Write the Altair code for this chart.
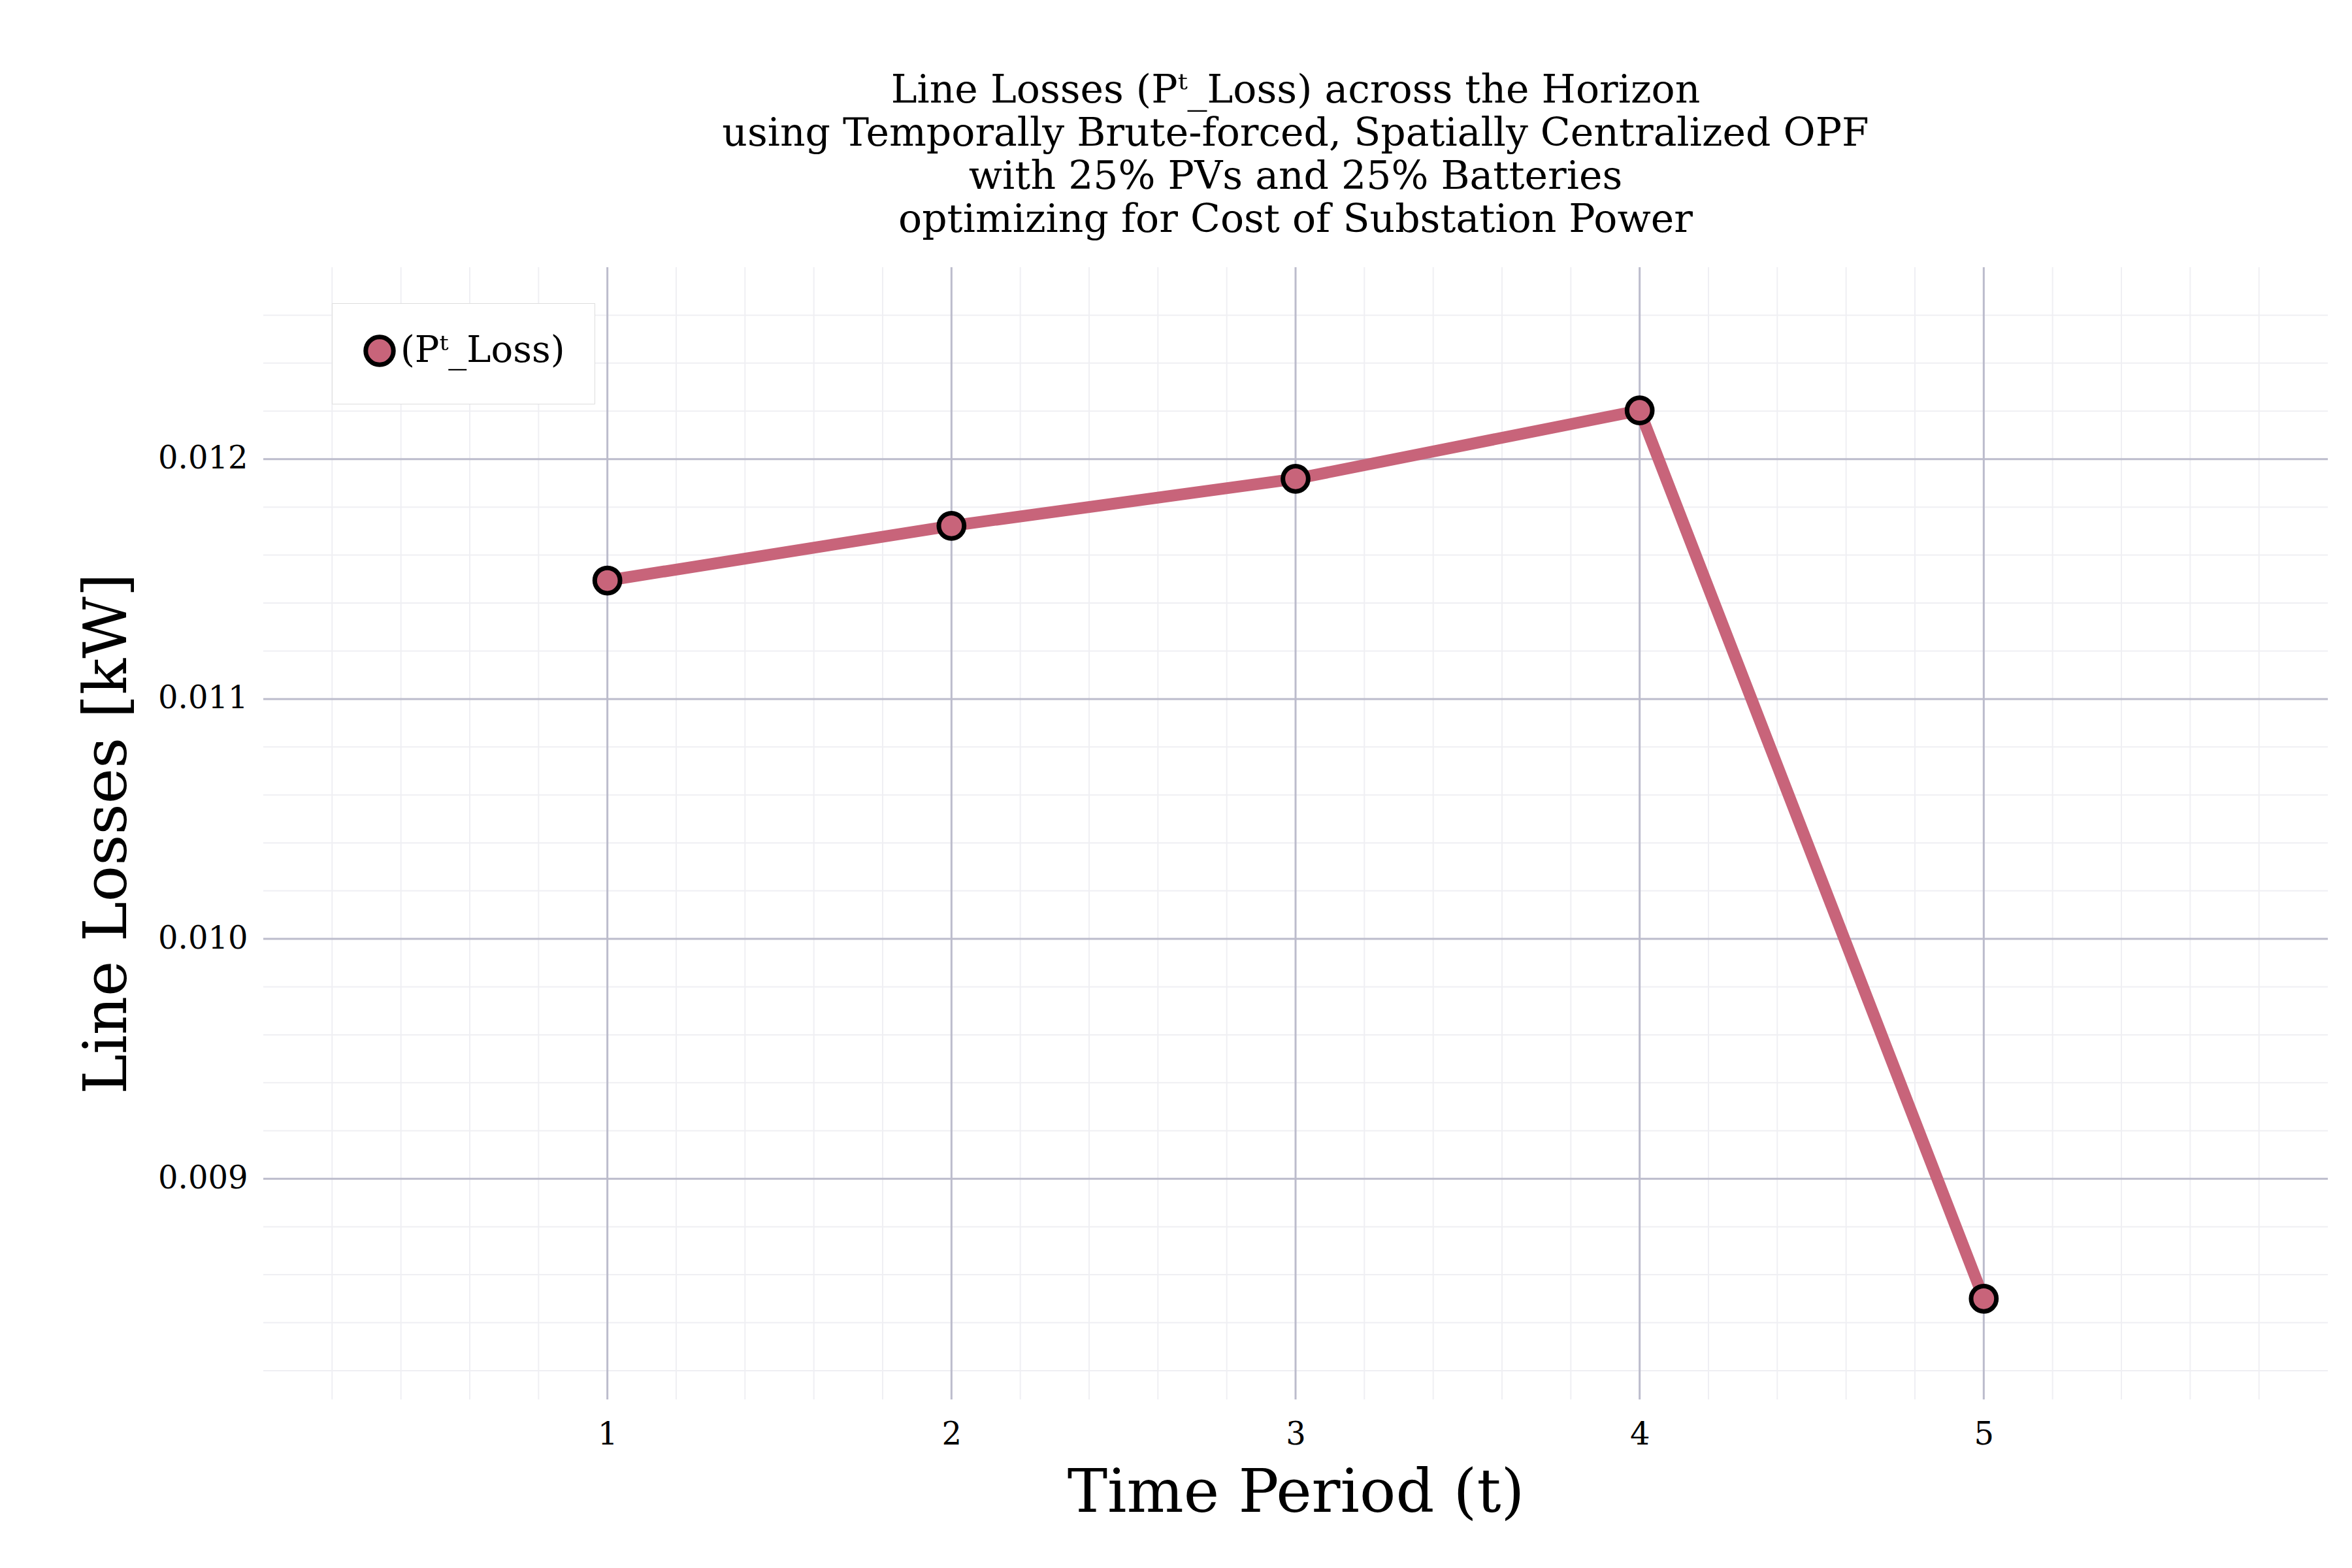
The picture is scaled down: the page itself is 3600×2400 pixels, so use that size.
import numpy as np
import pandas as pd
import altair as alt

# values
periods = [1, 2, 3, 4, 5]
losses = [0.011494, 0.011722, 0.011918, 0.012203, 0.008500]
series_name = "(Pᵗ_Loss)"

_LINE = "#c8647a"
_MAJOR = "#bcbccc"
_MINOR = "#efeff3"
FONT = "DejaVu Serif"

x_dom = [0, 6]
y_dom = [0.00808, 0.0128]

df = pd.DataFrame({"t": periods, "loss": losses, "s": series_name})
minor_x = pd.DataFrame({"v": np.round(np.arange(0.2, 6.0, 0.2), 2)})
minor_y = pd.DataFrame({"v": np.round(np.arange(0.0082, 0.0128, 0.0002), 5)})
major_x = pd.DataFrame({"v": periods})
major_y = pd.DataFrame({"v": [0.009, 0.010, 0.011, 0.012]})

xs = alt.Scale(domain=x_dom, nice=False, zero=False)
ys = alt.Scale(domain=y_dom, nice=False, zero=False)

gx = alt.Chart(minor_x).mark_rule(color=_MINOR, strokeWidth=2).encode(x=alt.X("v:Q", scale=xs))
gy = alt.Chart(minor_y).mark_rule(color=_MINOR, strokeWidth=2).encode(y=alt.Y("v:Q", scale=ys))
Gx = alt.Chart(major_x).mark_rule(color=_MAJOR, strokeWidth=3).encode(x=alt.X("v:Q", scale=xs))
Gy = alt.Chart(major_y).mark_rule(color=_MAJOR, strokeWidth=3).encode(y=alt.Y("v:Q", scale=ys))

x_enc = alt.X("t:Q", scale=xs, title="Time Period (t)",
              axis=alt.Axis(values=periods, format="d", grid=False, domain=False, ticks=False,
                            labelFontSize=48, titleFontSize=92, labelPadding=30, titlePadding=20))
y_enc = alt.Y("loss:Q", scale=ys, title="Line Losses [kW]",
              axis=alt.Axis(values=[0.009, 0.010, 0.011, 0.012], format=".3f", grid=False,
                            domain=False, ticks=False, labelFontSize=48, titleFontSize=92,
                            labelPadding=24, titlePadding=30))

line = alt.Chart(df).mark_line(color=_LINE, strokeWidth=18).encode(x=x_enc, y=y_enc)
pts = alt.Chart(df).mark_point(filled=True, size=1500, stroke="black", strokeWidth=7, opacity=1).encode(
    x="t:Q", y="loss:Q",
    fill=alt.Fill("s:N", scale=alt.Scale(range=[_LINE]),
                  legend=alt.Legend(title=None, orient="none", legendX=105, legendY=55,
                                    labelFontSize=56, labelLimit=0, symbolSize=1800,
                                    symbolStrokeWidth=7, symbolStrokeColor="black", padding=45,
                                    strokeColor="#dddddd", fillColor="white")))

chart = alt.layer(gx, gy, Gx, Gy, line, pts).properties(
    width=3160, height=1733,
    padding={"left": 110, "top": 100, "right": 10, "bottom": 10},
    title=alt.Title(["Line Losses (Pᵗ_Loss) across the Horizon",
                     "using Temporally Brute-forced, Spatially Centralized OPF",
                     "with 25% PVs and 25% Batteries",
                     "optimizing for Cost of Substation Power"],
                    fontSize=60, fontWeight="normal", font=FONT, offset=40, lineHeight=66),
).configure(font=FONT).configure_view(stroke=None).configure_axis(
    labelFont=FONT, titleFont=FONT, labelColor="black", titleColor="black", titleFontWeight="normal"
).configure_legend(labelFont=FONT)

chart.save("out.html", embed_options={"renderer": "svg", "actions": False})
